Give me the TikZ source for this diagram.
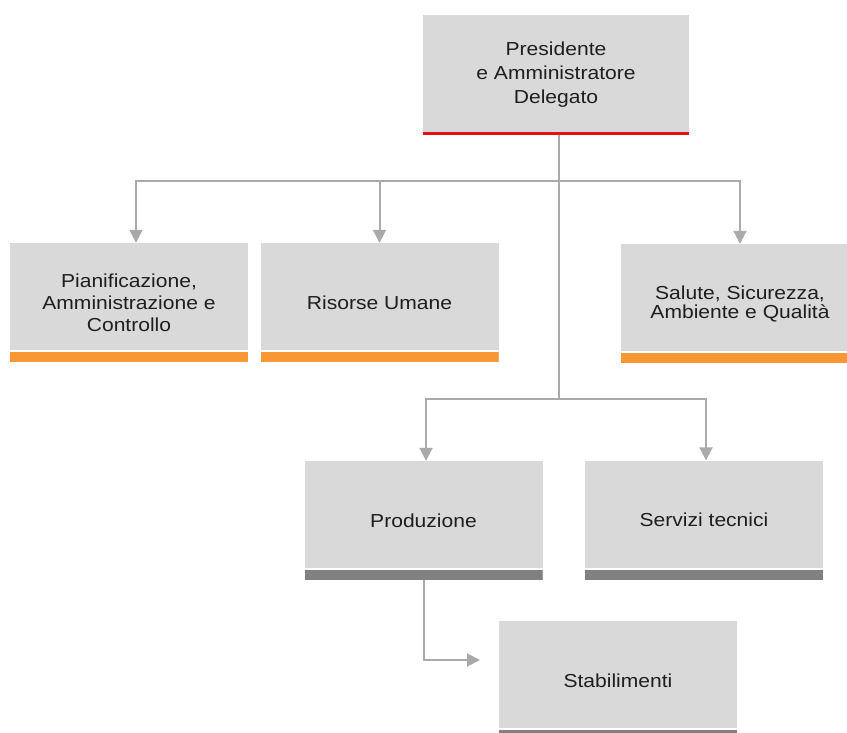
\documentclass[tikz,border=0pt]{standalone}
\usepackage{fontspec}
\setmainfont{Liberation Sans}[FakeStretch=1.12]
\usetikzlibrary{arrows.meta}
\definecolor{boxgray}{RGB}{217,217,217}
\definecolor{barorange}{RGB}{247,152,52}
\definecolor{barred}{RGB}{226,18,18}
\definecolor{bardark}{RGB}{128,128,128}
\definecolor{linkgray}{RGB}{170,170,170}
\definecolor{labeltext}{RGB}{30,30,30}

\begin{document}
\begin{tikzpicture}[x=1pt,y=-1pt,
  % department box with a coloured strip along its bottom edge
  unitbox/.style={fill=boxgray, draw=none, inner sep=0pt,
    minimum width=238pt, minimum height=119pt, align=center,
    text=labeltext, font=\fontsize{18.8}{22}\selectfont,
    path picture={
      \fill[white] ([yshift=10pt]path picture bounding box.south west)
        rectangle ([yshift=12pt]path picture bounding box.south east);
      \fill[#1] (path picture bounding box.south west)
        rectangle ([yshift=10pt]path picture bounding box.south east);}},
  % top box with a thin red strip
  topbox/.style={fill=boxgray, draw=none, inner sep=0pt,
    minimum width=266pt, minimum height=120pt, align=center,
    text=labeltext, font=\fontsize{18.8}{24}\selectfont,
    path picture={
      \fill[barred] (path picture bounding box.south west)
        rectangle ([yshift=3pt]path picture bounding box.south east);}},
  link/.style={draw=linkgray, line width=2pt},
  arrowlink/.style={link, -{Triangle[length=13pt,width=13pt]}}
]
\clip (0,0) rectangle (847,732);

% boxes
\node[topbox] (pres) at (556,75) {Presidente\\e Amministratore\\Delegato};

\node[unitbox=barorange] (pian) at (129,302.5)
  {Pianificazione,\\Amministrazione e\\Controllo};
\node[unitbox=barorange] (ris) at (379.5,302.5) {Risorse Umane};
\node[unitbox=barorange, font=\fontsize{18.8}{19}\selectfont] (sal) at (740,303.5)
  {Salute, Sicurezza,\\Ambiente e Qualità};

\node[unitbox=bardark] (prod) at (423.5,520.5) {Produzione};
\node[unitbox=bardark] (serv) at (704,520) {Servizi tecnici};
\node[unitbox=bardark] (stab) at (618,680.5) {Stabilimenti};

% junction points of the connectors
\coordinate (j1) at (559,181);
\coordinate (j2) at (559,399);
\coordinate (sin) at (480,660);

% connectors
\draw[link] (pres.south -| j1) -- (j2);
\draw[arrowlink] (j1) -| ([xshift=7pt]pian.north);
\draw[arrowlink] (j1) -| (ris.north);
\draw[arrowlink] (j1) -| (sal.north);
\draw[arrowlink] (j2) -| ([xshift=2.5pt]prod.north);
\draw[arrowlink] (j2) -| ([xshift=2pt]serv.north);
\draw[arrowlink] (prod.south) |- (sin);
\end{tikzpicture}
\end{document}
